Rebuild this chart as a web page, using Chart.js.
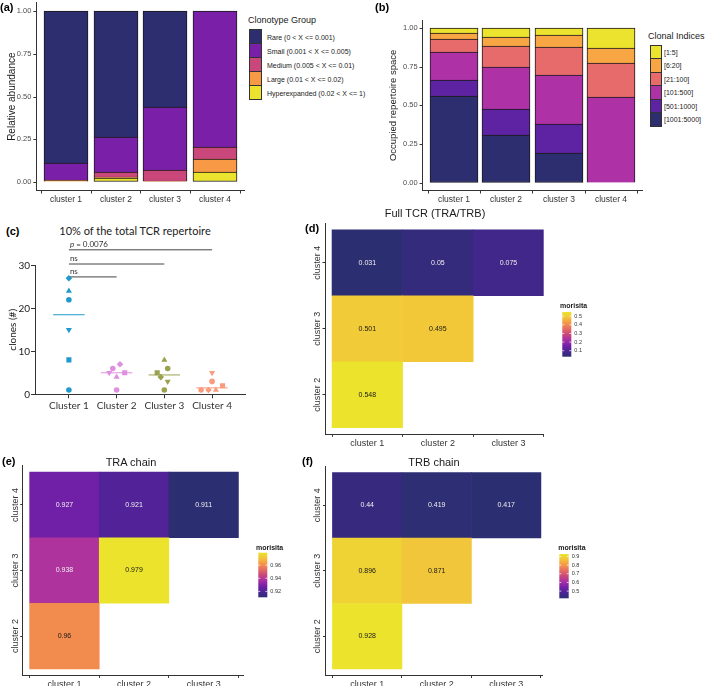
<!DOCTYPE html>
<html>
<head>
<meta charset="utf-8">
<script src="https://cdn.jsdelivr.net/npm/chart.js@4.4.1/dist/chart.umd.min.js"></script>
<style>
  html, body { margin: 0; padding: 0; background: #fff; }
  #fig { position: relative; width: 709px; height: 686px; overflow: hidden; font-family: "Liberation Sans", Arial, sans-serif; color: #1a1a1a; }
  #fig canvas { position: absolute; }
  .txt { position: absolute; white-space: nowrap; line-height: 1; }
  .sw { position: absolute; box-sizing: border-box; border: 1px solid #333; }
</style>
</head>
<body>
<div id="fig"></div>
<script>
const clusters = ['cluster 1', 'cluster 2', 'cluster 3', 'cluster 4'];

// (a) clonal homeostasis, bottom -> top
const homeoGroups = ['Hyperexpanded (0.02 < X <= 1)', 'Large (0.01 < X <= 0.02)', 'Medium (0.005 < X <= 0.01)', 'Small (0.001 < X <= 0.005)', 'Rare (0 < X <= 0.001)'];
const hyperexpanded = [0.002, 0.022, 0.002, 0.059];
const large = [0.007, 0.008, 0.005, 0.074];
const medium = [0.005, 0.031, 0.065, 0.070];
const small = [0.095, 0.202, 0.367, 0.797];
const rare = [0.891, 0.737, 0.561, 0];
const homeoColors = ['#ebe32e', '#f89a45', '#c9477a', '#7a20a8', '#2c2e70'];

// (b) clonal proportion, bottom -> top
const indexGroups = ['[1001:5000]', '[501:1000]', '[101:500]', '[21:100]', '[6:20]', '[1:5]'];
const idx1001 = [0.558, 0.310, 0.194, 0];
const idx501 = [0.106, 0.164, 0.187, 0];
const idx101 = [0.183, 0.274, 0.313, 0.556];
const idx21 = [0.084, 0.138, 0.185, 0.220];
const idx6 = [0.037, 0.058, 0.074, 0.097];
const idx1 = [0.032, 0.056, 0.047, 0.127];
const indexColors = ['#2c2e70', '#5e23a2', '#ae31a6', '#e76b6a', '#f7a643', '#ebe32e'];
const fractionTicks = [0, 0.25, 0.5, 0.75, 1];

// (c) clones making up 10% of the repertoire, one value per sample
const cloneClusters = ['Cluster 1', 'Cluster 2', 'Cluster 3', 'Cluster 4'];
const sampleShapes = ['circle', 'rect', 'triangle', 'rectRot', 'invTriangle', 'circle'];
const clones1 = [22, 8, 24, 27, 15, 1];
const clones2 = [6, 5, 4, 7, 5, 1];
const clones3 = [6, 5, 8, 4, 3, 1];
const clones4 = [3, 2, 1, 1, 5, 1];
const spread1 = [0, 0, 0, 0, 0, 0];
const spread2 = [-0.08, 0.17, 0, 0.07, -0.155, 0];
const spread3 = [0.07, -0.15, 0, -0.075, 0.07, 0];
const spread4 = [0, 0.22, 0.08, -0.075, 0, -0.23];
const cloneMedians = [18.5, 5, 4.5, 1.5];
const cloneColors = ['#1f9acb', '#df8fdf', '#9aa24e', '#f99b7c'];
const cloneTicks = [0, 10, 20, 30];
const bracketEnds = [4, 3, 2];
const bracketLevels = [33.6, 30.3, 27.3];
const bracketLabels = ['p = 0.0076', 'ns', 'ns'];

// (d)-(f) Morisita overlap, rows cluster 2..4, columns cluster 1..3
const overlapCols = ['cluster 1', 'cluster 2', 'cluster 3'];
const overlapRows = ['cluster 2', 'cluster 3', 'cluster 4'];
const fullTcr = [[0.548, null, null], [0.501, 0.495, null], [0.031, 0.05, 0.075]];
const traChain = [[0.96, null, null], [0.938, 0.979, null], [0.927, 0.921, 0.911]];
const trbChain = [[0.928, null, null], [0.896, 0.871, null], [0.44, 0.419, 0.417]];
const fullTcrTicks = [0.1, 0.2, 0.3, 0.4, 0.5];
const traTicks = [0.92, 0.94, 0.96];
const trbTicks = [0.5, 0.6, 0.7, 0.8, 0.9];

const plasmaStops = ['#2c2e72', '#4b2494', '#7520a8', '#a82fa4', '#c8477a', '#e56c63', '#f59548', '#f3c23c', '#ebe32c'];

Chart.defaults.animation = false;
Chart.defaults.responsive = false;
Chart.defaults.plugins.legend.display = false;
Chart.defaults.plugins.tooltip.enabled = false;
Chart.defaults.font.family = '"Liberation Sans", Arial, sans-serif';
Chart.defaults.color = '#333';

const fig = document.getElementById('fig');
const axisBorder = { display: true, color: '#333', width: 1 };

function axisGrid(len) {
  return { display: true, drawOnChartArea: false, drawTicks: true, tickLength: len, tickColor: '#333', tickWidth: 1 };
}

function hexRgb(h) {
  return [1, 3, 5].map(i => parseInt(h.slice(i, i + 2), 16));
}

function plasma(t) {
  t = Math.min(1, Math.max(0, t));
  const n = plasmaStops.length - 1;
  const i = Math.min(n - 1, Math.floor(t * n));
  const f = t * n - i;
  const a = hexRgb(plasmaStops[i]), b = hexRgb(plasmaStops[i + 1]);
  return 'rgb(' + a.map((c, k) => Math.round(c + (b[k] - c) * f)).join(',') + ')';
}

function place(text, x, y, css, center) {
  const el = document.createElement('div');
  el.className = 'txt';
  el.textContent = text;
  el.style.cssText = `left:${x}px;top:${y}px;transform:translate(${center ? '-50%' : '0'},-50%);` + (css || '');
  fig.appendChild(el);
  return el;
}

function makeCanvas(box) {
  const c = document.createElement('canvas');
  c.width = box.w;
  c.height = box.h;
  c.style.left = box.left + 'px';
  c.style.top = box.top + 'px';
  fig.appendChild(c);
  return c;
}

// pin the plot area to page coordinates
function frame(box, area) {
  const zero = s => { s.paddingLeft = s.paddingRight = s.paddingTop = s.paddingBottom = 0; };
  return {
    padding: { left: 0, top: area.top - box.top, right: box.left + box.w - area.right, bottom: 0 },
    fitY: s => { s.width = area.left - box.left; zero(s); },
    fitX: s => { s.height = box.top + box.h - area.bottom; zero(s); }
  };
}

function categoryAxis(min, max, names, fitX, size, family, tick, snap) {
  return {
    type: 'linear', min, max, offset: false, alignToPixels: !!snap,
    afterBuildTicks: s => { s.ticks = names.map((_, i) => ({ value: i + 1 })); },
    afterFit: fitX,
    ticks: { callback: v => names[v - 1], autoSkip: false, maxRotation: 0, padding: 1, color: '#333', font: { size, family } },
    grid: axisGrid(tick || 3),
    border: axisBorder
  };
}

function stackedBars(box, area, names, series, colors, barWidth, yTitle, titleSize, titlePad) {
  const f = frame(box, area);
  return new Chart(makeCanvas(box), {
    type: 'bar',
    data: {
      labels: clusters.map((_, i) => i + 1),
      datasets: series.map((values, i) => ({
        label: names[i],
        data: values,
        backgroundColor: colors[i],
        borderColor: '#1a1a1a',
        borderWidth: 1,
        borderSkipped: i === 0 ? false : 'start',
        grouped: false,
        barPercentage: 1,
        categoryPercentage: 1,
        maxBarThickness: barWidth
      }))
    },
    options: {
      layout: { padding: f.padding },
      scales: {
        x: categoryAxis(0.4, 4.6, clusters, f.fitX, 8.5, undefined, 3, true),
        y: {
          stacked: true, min: -0.05, max: 1.05, alignToPixels: true,
          afterBuildTicks: s => { s.ticks = fractionTicks.map(v => ({ value: v })); },
          afterFit: f.fitY,
          ticks: { callback: v => v.toFixed(2), font: { size: 7.5 }, color: '#4d4d4d', padding: 2 },
          grid: axisGrid(3),
          border: axisBorder,
          title: { display: true, text: yTitle, font: { size: titleSize }, color: '#1a1a1a', padding: { top: titlePad, bottom: 0 } }
        }
      }
    }
  });
}

function swatchLegend(title, names, colors, tx, ty, sx, top, sw, rowH, textX) {
  place(title, tx, ty, 'font-size:9px;color:#1a1a1a;');
  names.forEach((name, i) => {
    const s = document.createElement('div');
    s.className = 'sw';
    s.style.cssText = `left:${sx}px;top:${top + i * rowH}px;width:${sw}px;height:${rowH + 1}px;background:${colors[i]};`;
    fig.appendChild(s);
    place(name, textX, top + i * rowH + rowH / 2 + 0.5, 'font-size:7px;color:#1a1a1a;');
  });
}

// ---- (a)
stackedBars({ left: 0, top: 0, w: 246, h: 212 }, { left: 36.4, top: 2.8, right: 244.2, bottom: 190.5 },
  homeoGroups, [hyperexpanded, large, medium, small, rare], homeoColors, 44, 'Relative abundance', 10, 6);
swatchLegend('Clonotype Group', homeoGroups.slice().reverse(), homeoColors.slice().reverse(), 248, 20, 249, 29.3, 13, 14, 267);

// ---- (b)
stackedBars({ left: 380, top: 0, w: 266, h: 212 }, { left: 422.6, top: 20.3, right: 642.4, bottom: 190.5 },
  indexGroups, [idx1001, idx501, idx101, idx21, idx6, idx1], indexColors, 48, 'Occupied repertoire space', 9.5, 7.3);
swatchLegend('Clonal Indices', indexGroups.slice().reverse(), indexColors.slice().reverse(), 648, 36, 649.5, 44.5, 12, 13.5, 664);

// ---- (c)
const shapeSize = { circle: 2.8, rect: 3.6, triangle: 3.5, rectRot: 3.3, invTriangle: 3.5 };

const bracketText = {
  id: 'bracketText',
  afterDatasetsDraw(chart) {
    const { ctx, scales: { x, y } } = chart;
    ctx.save();
    ctx.fillStyle = '#333';
    ctx.textBaseline = 'alphabetic';
    bracketLabels.forEach((label, i) => {
      let px = x.getPixelForValue(1) + 1;
      const py = y.getPixelForValue(bracketLevels[i]) - 3;
      let rest = label;
      if (label.startsWith('p ')) {
        ctx.font = 'italic 8px Lato';
        ctx.fillText('p', px, py);
        px += ctx.measureText('p').width;
        rest = label.slice(1);
      }
      ctx.font = '8px Lato';
      ctx.fillText(rest, px, py);
    });
    ctx.restore();
  }
};

(function cloneChart() {
  const box = { left: 0, top: 240, w: 250, h: 175 };
  const f = frame(box, { left: 35, top: 265.3, right: 245, bottom: 394.3 });
  const values = [clones1, clones2, clones3, clones4];
  const spreads = [spread1, spread2, spread3, spread4];
  const points = values.map((vals, c) => ({
    data: vals.map((v, k) => ({ x: c + 1 + spreads[c][k], y: v })),
    pointBackgroundColor: cloneColors[c],
    pointBorderWidth: 0,
    pointStyle: sampleShapes.map(s => s === 'invTriangle' ? 'triangle' : s),
    pointRotation: sampleShapes.map(s => s === 'invTriangle' ? 180 : 0),
    pointRadius: sampleShapes.map(s => shapeSize[s]),
    order: 0
  }));
  const medians = cloneMedians.map((m, c) => ({
    data: [{ x: c + 1 - 0.33, y: m }, { x: c + 1 + 0.33, y: m }],
    showLine: true, borderColor: cloneColors[c], borderWidth: 1, pointRadius: 0, order: 1
  }));
  const brackets = bracketEnds.map((end, i) => ({
    data: [{ x: 1, y: bracketLevels[i] }, { x: end, y: bracketLevels[i] }],
    showLine: true, borderColor: '#444', borderWidth: 1, pointRadius: 0, clip: false, order: 1
  }));
  new Chart(makeCanvas(box), {
    type: 'scatter',
    data: { datasets: [...points, ...medians, ...brackets] },
    options: {
      layout: { padding: f.padding },
      scales: {
        x: categoryAxis(0.29, 4.69, cloneClusters, f.fitX, 10, 'Lato', 4),
        y: {
          min: 0, max: 30,
          afterBuildTicks: s => { s.ticks = cloneTicks.map(v => ({ value: v })); },
          afterFit: f.fitY,
          ticks: { font: { size: 10, family: 'Lato' }, color: '#222', padding: 1 },
          grid: axisGrid(4),
          border: axisBorder,
          title: { display: true, text: 'clones (#)', font: { size: 10, family: 'Lato' }, color: '#222', padding: { top: 7, bottom: 0 } }
        }
      }
    },
    plugins: [bracketText]
  });
})();
place('10% of the total TCR repertoire', 135, 230, 'font-family:Lato;font-size:11px;color:#222;', true);

// ---- (d)-(f)
function overlapPlugin(cfg) {
  return {
    id: 'overlap',
    afterDraw(chart) {
      const { ctx, scales: { y }, chartArea } = chart;
      const span = cfg.hi - cfg.lo;
      ctx.save();
      ctx.font = '7px "Liberation Sans"';
      ctx.textAlign = 'center';
      ctx.textBaseline = 'middle';
      chart.data.datasets.forEach((ds, di) => {
        chart.getDatasetMeta(di).data.forEach((bar, i) => {
          const v = ds.data[i].v;
          ctx.fillStyle = (v - cfg.lo) / span < 0.5 ? '#eeeeee' : '#1a1a1a';
          ctx.fillText(String(v), bar.x, (bar.y + bar.base) / 2);
        });
      });
      ctx.font = '9px "Liberation Sans"';
      ctx.fillStyle = '#333';
      overlapRows.forEach((name, r) => {
        ctx.save();
        ctx.translate(chartArea.left - 7.5, y.getPixelForValue(r + 1));
        ctx.rotate(-Math.PI / 2);
        ctx.fillText(name, 0, 0);
        ctx.restore();
      });
      // colour bar
      const bx = cfg.bar.x - cfg.box.left, by = cfg.bar.y - cfg.box.top;
      const bw = cfg.bar.w, bh = cfg.bar.h;
      const grad = ctx.createLinearGradient(0, by + bh, 0, by);
      plasmaStops.forEach((c, i) => grad.addColorStop(i / (plasmaStops.length - 1), c));
      ctx.fillStyle = grad;
      ctx.fillRect(bx, by, bw, bh);
      ctx.strokeStyle = '#ffffff';
      ctx.lineWidth = 0.7;
      ctx.font = '5.5px "Liberation Sans"';
      ctx.textAlign = 'left';
      ctx.fillStyle = '#333';
      cfg.ticks.forEach(t => {
        const ty = by + bh - (t - cfg.lo) / span * bh;
        ctx.beginPath();
        ctx.moveTo(bx, ty); ctx.lineTo(bx + 2, ty);
        ctx.moveTo(bx + bw - 2, ty); ctx.lineTo(bx + bw, ty);
        ctx.stroke();
        ctx.fillText(String(t), bx + bw + 3, ty);
      });
      ctx.font = 'bold 7px "Liberation Sans"';
      ctx.fillStyle = '#1a1a1a';
      ctx.fillText('morisita', cfg.title.x - cfg.box.left, cfg.title.y - cfg.box.top);
      ctx.restore();
    }
  };
}

function overlapChart(box, area, xMax, matrix, ticks, bar, title) {
  const f = frame(box, area);
  const flat = matrix.flat().filter(v => v !== null);
  const lo = Math.min(...flat), hi = Math.max(...flat);
  return new Chart(makeCanvas(box), {
    type: 'bar',
    data: {
      datasets: matrix.map((row, r) => ({
        label: overlapRows[r],
        data: row.map((v, c) => ({ x: c + 1, y: [r + 0.5, r + 1.5], v })).filter(d => d.v !== null),
        backgroundColor: row.filter(v => v !== null).map(v => plasma((v - lo) / (hi - lo))),
        borderWidth: 0,
        grouped: false,
        barPercentage: 1,
        categoryPercentage: 1
      }))
    },
    options: {
      layout: { padding: f.padding },
      scales: {
        x: categoryAxis(0.4, xMax, overlapCols, f.fitX, 9, undefined, 2.5),
        y: {
          type: 'linear', min: 0.4, max: 3.6,
          afterBuildTicks: s => { s.ticks = overlapRows.map((_, i) => ({ value: i + 1 })); },
          afterFit: f.fitY,
          ticks: { display: false },
          grid: axisGrid(2.5),
          border: axisBorder
        }
      }
    },
    plugins: [overlapPlugin({ lo, hi, ticks, box, bar, title })]
  });
}

overlapChart({ left: 300, top: 205, w: 300, h: 250 }, { left: 325, top: 223.2, right: 543.7, bottom: 434.3 }, 3.5,
  fullTcr, fullTcrTicks, { x: 562.3, y: 312, w: 9, h: 44.7 }, { x: 560, y: 305.7 });
overlapChart({ left: 0, top: 455, w: 300, h: 231 }, { left: 22.7, top: 465.6, right: 243.3, bottom: 675.4 }, 3.57,
  traChain, traTicks, { x: 258.3, y: 552.7, w: 9, h: 44.6 }, { x: 256, y: 547.7 });
overlapChart({ left: 300, top: 455, w: 300, h: 231 }, { left: 325.5, top: 466, right: 542.3, bottom: 675.5 }, 3.52,
  trbChain, trbTicks, { x: 559.3, y: 554, w: 9.4, h: 44.3 }, { x: 558.3, y: 547.7 });

place('Full TCR (TRA/TRB)', 435, 213, 'font-size:11px;color:#1a1a1a;', true);
place('TRA chain', 131, 462, 'font-size:11px;color:#1a1a1a;', true);
place('TRB chain', 434, 462, 'font-size:11px;color:#1a1a1a;', true);

// panel tags
const tag = 'font-weight:bold;font-size:11px;color:#000;';
place('(a)', 0, 7, tag);
place('(b)', 375, 7, tag);
place('(c)', 6, 231, tag);
place('(d)', 305, 228, tag);
place('(e)', 2, 461, tag);
place('(f)', 302, 461, tag);
</script>
</body>
</html>
